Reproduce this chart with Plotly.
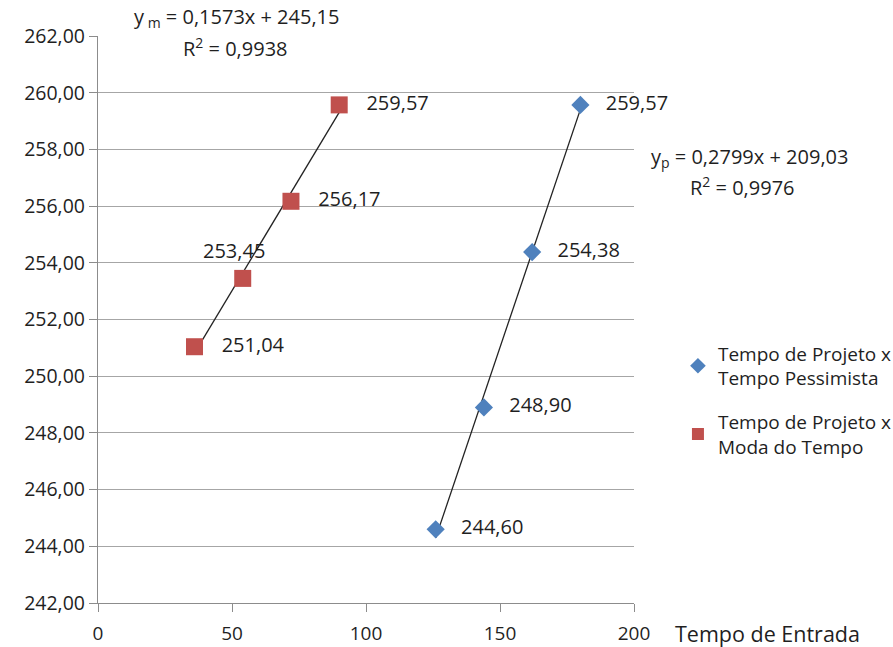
import plotly.graph_objects as go

x_moda = [36, 54, 72, 90]
y_moda = [251.04, 253.45, 256.17, 259.57]
x_pess = [126, 144, 162, 180]
y_pess = [244.60, 248.90, 254.38, 259.57]
lab_moda = ["251,04", "253,45", "256,17", "259,57"]
lab_pess = ["244,60", "248,90", "254,38", "259,57"]
coef_moda = (0.1573, 245.15)
coef_pess = (0.2799, 209.03)
y_ticks = [242, 244, 246, 248, 250, 252, 254, 256, 258, 260, 262]
x_ticks = [0, 50, 100, 150, 200]

FONT = "Open Sans"
TXT = "#1F1F1F"
FS = 20
fig = go.Figure()

def trend(xs, c):
    xe = [min(xs), max(xs)]
    return xe, [c[0] * v + c[1] for v in xe]

for xs, c in ((x_moda, coef_moda), (x_pess, coef_pess)):
    tx, ty = trend(xs, c)
    fig.add_trace(go.Scatter(x=tx, y=ty, mode="lines", line=dict(color="#222222", width=1.3),
                             showlegend=False, hoverinfo="skip", cliponaxis=False))

fig.add_trace(go.Scatter(
    x=x_pess, y=y_pess, mode="markers+text", text=["   " + t for t in lab_pess],
    textposition="middle right", cliponaxis=False,
    marker=dict(symbol="diamond", size=14, color="#4F81BD"),
    textfont=dict(family=FONT, size=FS, color=TXT),
    legendgroup="p",
    name="Tempo de Projeto x<br>Tempo Pessimista"))

moda_text = ["   " + t for t in lab_moda]
moda_text[1] = ""
fig.add_trace(go.Scatter(
    x=x_moda, y=y_moda, mode="markers+text", text=moda_text,
    textposition="middle right", cliponaxis=False,
    marker=dict(symbol="square", size=17, color="#C0504D"),
    textfont=dict(family=FONT, size=FS, color=TXT),
    legendgroup="m",
    name="Tempo de Projeto x<br>Moda do Tempo"))

fig.add_annotation(xref="x", yref="y", x=x_moda[1], y=y_moda[1], text=lab_moda[1],
                   showarrow=False, xshift=-9, yshift=28,
                   font=dict(family=FONT, size=FS, color=TXT))

eq_font = dict(family=FONT, size=FS, color=TXT)
for ex, ey, et in ((0.259, 1.032, "y<sub> m</sub> = 0,1573x + 245,15"),
                   (0.257, 0.979, "R<sup>2</sup> = 0,9938"),
                   (1.215, 0.785, "y<sub>p</sub> = 0,2799x + 209,03"),
                   (1.203, 0.735, "R<sup>2</sup> = 0,9976")):
    fig.add_annotation(xref="paper", yref="paper", x=ex, y=ey, xanchor="center",
                       yanchor="middle", text=et, showarrow=False, font=eq_font)

fig.add_annotation(xref="paper", yref="paper", x=1.073, y=-0.053, xanchor="left",
                   yanchor="middle", text="Tempo de Entrada", showarrow=False,
                   font=dict(family=FONT, size=21.5, color=TXT))

fig.update_layout(
    width=893, height=647,
    margin=dict(l=98, r=259, t=36, b=44, autoexpand=False),
    plot_bgcolor="white", paper_bgcolor="white",
    separators=", ",
    font=dict(family=FONT, size=FS, color=TXT),
    showlegend=True,
    legend=dict(x=1.082, y=0.358, xanchor="left", yanchor="middle",
                font=dict(family=FONT, size=19, color=TXT),
                tracegroupgap=16, itemsizing="constant", bgcolor="rgba(0,0,0,0)"),
    xaxis=dict(range=[0, 200], tickvals=x_ticks, showgrid=False, zeroline=False,
               showline=True, linecolor="#8C8C8C", linewidth=1.3, ticks="outside", ticklen=8,
               tickcolor="#8C8C8C", tickwidth=1.3, ticklabelstandoff=5, automargin=False,
               tickfont=dict(family=FONT, size=19, color=TXT)),
    yaxis=dict(range=[242, 262], tickvals=y_ticks, tickformat=".2f", showgrid=True,
               gridcolor="#A6A6A6", gridwidth=1.3, zeroline=False, showline=True,
               linecolor="#8C8C8C", linewidth=1.3, automargin=False,
               ticks="outside", ticklen=8, tickcolor="#8C8C8C", tickwidth=1.3,
               tickfont=dict(family=FONT, size=19.5, color=TXT)),
)

fig.write_html("out.html", config={"displayModeBar": False},
               post_script="document.body.style.margin='0';")
